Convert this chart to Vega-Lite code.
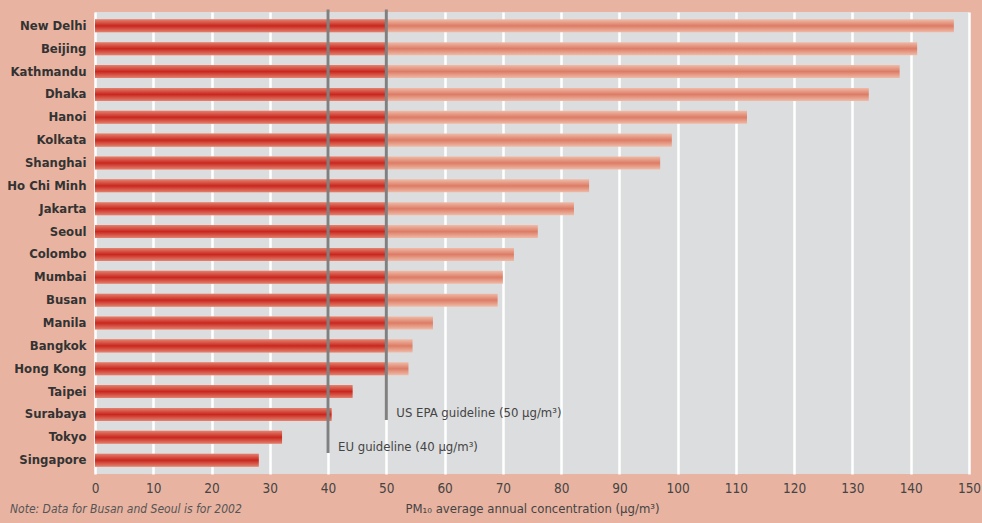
{
  "$schema": "https://vega.github.io/schema/vega-lite/v6.json",
  "autosize": {"type": "none"},
  "width": 874,
  "height": 462,
  "padding": {"left": 95, "top": 12, "right": 13, "bottom": 49},
  "background": "#E9B3A1",
  "config": {
    "view": {"fill": "#DCDDDF", "stroke": null},
    "font": "DejaVu Sans Condensed, Liberation Sans, sans-serif"
  },
  "title": {
    "text": "Note: Data for Busan and Seoul is for 2002",
    "orient": "bottom",
    "anchor": "start",
    "frame": "group",
    "dx": -85,
    "offset": -12,
    "fontStyle": "italic",
    "fontWeight": "normal",
    "fontSize": 12,
    "color": "#555555"
  },
  "datasets": {
    "cities": [
      {"city": "New Delhi", "value": 147.4},
      {"city": "Beijing", "value": 141.1},
      {"city": "Kathmandu", "value": 138.1},
      {"city": "Dhaka", "value": 132.8},
      {"city": "Hanoi", "value": 111.9},
      {"city": "Kolkata", "value": 99.0},
      {"city": "Shanghai", "value": 97.0},
      {"city": "Ho Chi Minh", "value": 84.8},
      {"city": "Jakarta", "value": 82.2},
      {"city": "Seoul", "value": 76.0},
      {"city": "Colombo", "value": 71.9},
      {"city": "Mumbai", "value": 70.0},
      {"city": "Busan", "value": 69.1},
      {"city": "Manila", "value": 58.0},
      {"city": "Bangkok", "value": 54.5},
      {"city": "Hong Kong", "value": 53.8},
      {"city": "Taipei", "value": 44.2},
      {"city": "Surabaya", "value": 40.6},
      {"city": "Tokyo", "value": 32.1},
      {"city": "Singapore", "value": 28.1}
    ],
    "eu": [{"limit": 40, "label": "EU guideline (40 µg/m³)"}],
    "us": [{"limit": 50, "label": "US EPA guideline (50 µg/m³)"}]
  },
  "resolve": {"scale": {"y": "independent"}, "axis": {"y": "independent"}},
  "layer": [
    {
      "data": {"name": "cities"},
      "mark": {
        "type": "bar",
        "color": {
          "gradient": "linear", "x1": 0, "y1": 0, "x2": 0, "y2": 1,
          "stops": [
            {"offset": 0, "color": "#EFBBA7"},
            {"offset": 0.5, "color": "#DD7C66"},
            {"offset": 1, "color": "#EFBBA7"}
          ]
        }
      },
      "encoding": {
        "y": {
          "field": "city", "type": "nominal", "sort": null,
          "scale": {"paddingInner": 0.43, "paddingOuter": 0.32},
          "axis": {
            "title": null, "ticks": false, "domain": false,
            "labelFontWeight": "bold", "labelFontSize": 13,
            "labelColor": "#333333", "labelPadding": 9
          }
        },
        "x": {
          "field": "value", "type": "quantitative",
          "scale": {"domain": [0, 150], "nice": false},
          "axis": {
            "values": [0, 10, 20, 30, 40, 50, 60, 70, 80, 90, 100, 110, 120, 130, 140, 150],
            "title": "PM₁₀ average annual concentration (µg/m³)",
            "titleFontWeight": "normal", "titleFontSize": 13, "titleColor": "#444444",
            "titlePadding": 8,
            "grid": true, "gridColor": "#FFFFFF", "gridWidth": 2.5, "gridOpacity": 1,
            "ticks": false, "domain": false,
            "labelFontSize": 13.5, "labelColor": "#444444", "labelPadding": 7,
            "labelFlush": false
          }
        }
      }
    },
    {
      "data": {"name": "cities"},
      "transform": [{"calculate": "min(datum.value, 50)", "as": "dark"}],
      "mark": {
        "type": "bar",
        "color": {
          "gradient": "linear", "x1": 0, "y1": 0, "x2": 0, "y2": 1,
          "stops": [
            {"offset": 0, "color": "#E3826F"},
            {"offset": 0.5, "color": "#C9271E"},
            {"offset": 1, "color": "#E3826F"}
          ]
        }
      },
      "encoding": {
        "y": {
          "field": "city", "type": "nominal", "sort": null,
          "scale": {"paddingInner": 0.43, "paddingOuter": 0.32},
          "axis": null
        },
        "x": {"field": "dark", "type": "quantitative"}
      }
    },
    {
      "data": {"name": "eu"},
      "mark": {"type": "rule", "color": "#808080", "strokeWidth": 3},
      "encoding": {
        "x": {"field": "limit", "type": "quantitative"},
        "y": {"datum": -0.11, "type": "quantitative", "scale": {"domain": [0, 20], "reverse": true, "nice": false, "zero": false}, "axis": null},
        "y2": {"datum": 19.09}
      }
    },
    {
      "data": {"name": "us"},
      "mark": {"type": "rule", "color": "#808080", "strokeWidth": 3},
      "encoding": {
        "x": {"field": "limit", "type": "quantitative"},
        "y": {"datum": -0.11, "type": "quantitative", "scale": {"domain": [0, 20], "reverse": true, "nice": false, "zero": false}, "axis": null},
        "y2": {"datum": 17.66}
      }
    },
    {
      "data": {"name": "us"},
      "mark": {"type": "text", "align": "left", "baseline": "middle", "dx": 10, "fontSize": 13, "fontWeight": "normal", "color": "#444444"},
      "encoding": {
        "x": {"field": "limit", "type": "quantitative"},
        "y": {"datum": 17.36, "type": "quantitative", "scale": {"domain": [0, 20], "reverse": true, "nice": false, "zero": false}, "axis": null},
        "text": {"field": "label"}
      }
    },
    {
      "data": {"name": "eu"},
      "mark": {"type": "text", "align": "left", "baseline": "middle", "dx": 10, "fontSize": 13, "fontWeight": "normal", "color": "#444444"},
      "encoding": {
        "x": {"field": "limit", "type": "quantitative"},
        "y": {"datum": 18.83, "type": "quantitative", "scale": {"domain": [0, 20], "reverse": true, "nice": false, "zero": false}, "axis": null},
        "text": {"field": "label"}
      }
    }
  ]
}
